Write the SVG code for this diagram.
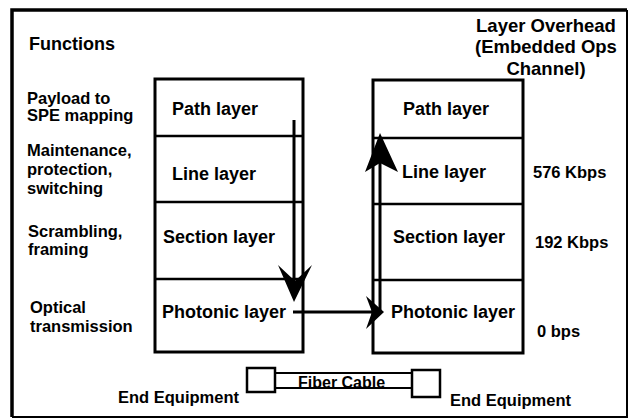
<svg xmlns="http://www.w3.org/2000/svg" width="635" height="420" viewBox="0 0 635 420">
<style>
  text { font-family: "Liberation Sans", Arial, sans-serif; font-weight: bold; fill: #000; }
  .fn { font-size: 16.5px; }
  .ly { font-size: 18px; }
  .hd { font-size: 18.5px; text-anchor: middle; }
  .rt { font-size: 16.5px; }
  .box { fill: none; stroke: #000; stroke-width: 3; }
  .div { stroke: #000; stroke-width: 2.5; }
  .con { stroke: #000; stroke-width: 3; fill: none; }
  .head { fill: #000; stroke: none; }
  .eq { fill: #fff; stroke: #000; stroke-width: 2.5; }
</style>
<rect width="635" height="420" fill="#fff"/>
<g id="frame">
  <path d="M12,417 L12,10 L627,10" fill="none" stroke="#000" stroke-width="3.5"/>
  <path d="M627,10 L627,417 L12,417" fill="none" stroke="#000" stroke-width="2"/>
</g>
<g id="functions-title"><text x="29" y="50" style="font-size:18px">Functions</text></g>
<g id="overhead-title">
  <text class="hd" x="546" y="32">Layer Overhead</text>
  <text class="hd" x="546" y="53">(Embedded Ops</text>
  <text class="hd" x="546" y="75">Channel)</text>
</g>
<g id="function-labels">
  <text class="fn" x="27" y="104">Payload to</text>
  <text class="fn" x="27" y="121">SPE mapping</text>
  <text class="fn" x="27" y="156">Maintenance,</text>
  <text class="fn" x="27" y="175">protection,</text>
  <text class="fn" x="27" y="194">switching</text>
  <text class="fn" x="28" y="237">Scrambling,</text>
  <text class="fn" x="28" y="255">framing</text>
  <text class="fn" x="30" y="313">Optical</text>
  <text class="fn" x="30" y="332">transmission</text>
</g>
<g id="left-stack">
  <rect class="box" x="155" y="79" width="148" height="273"/>
  <line class="div" x1="155" y1="136" x2="303" y2="136"/>
  <line class="div" x1="155" y1="202" x2="303" y2="202"/>
  <line class="div" x1="155" y1="279" x2="303" y2="279"/>
  <text class="ly" x="172" y="115">Path layer</text>
  <text class="ly" x="172" y="180">Line layer</text>
  <text class="ly" x="163" y="243">Section layer</text>
  <text class="ly" x="162" y="318">Photonic layer</text>
</g>
<g id="right-stack">
  <rect class="box" x="373" y="80" width="150" height="273"/>
  <line class="div" x1="373" y1="138" x2="523" y2="138"/>
  <line class="div" x1="373" y1="204" x2="523" y2="204"/>
  <line class="div" x1="373" y1="280" x2="523" y2="280"/>
  <text class="ly" x="403" y="115">Path layer</text>
  <text class="ly" x="402" y="178">Line layer</text>
  <text class="ly" x="393" y="243">Section layer</text>
  <text class="ly" x="391" y="318">Photonic layer</text>
</g>
<g id="rates">
  <text class="rt" x="533" y="178">576 Kbps</text>
  <text class="rt" x="535" y="248">192 Kbps</text>
  <text class="rt" x="537" y="337">0 bps</text>
</g>
<g id="connectors">
  <line class="con" x1="294" y1="120" x2="294" y2="285"/>
  <polygon class="head" points="294,302 278,265 295,281 312,265"/>
  <line class="con" x1="293" y1="312" x2="375" y2="312"/>
  <polygon class="head" points="384,312 366,296 372,312 366,329"/>
  <line class="con" x1="380" y1="313" x2="380" y2="150"/>
  <polygon class="head" points="380,133 365,172 380,163 398,172"/>
</g>
<g id="fiber-cable">
  <rect x="275" y="373" width="137" height="15" fill="#fff" stroke="#000" stroke-width="2"/>
  <text x="298" y="388" style="font-size:16px">Fiber Cable</text>
</g>
<g id="end-equipment-left">
  <rect class="eq" x="247" y="368" width="28" height="24"/>
  <text class="rt" x="118" y="403">End Equipment</text>
</g>
<g id="end-equipment-right">
  <rect class="eq" x="412" y="370" width="28" height="27"/>
  <text class="rt" x="450" y="406">End Equipment</text>
</g>
</svg>
